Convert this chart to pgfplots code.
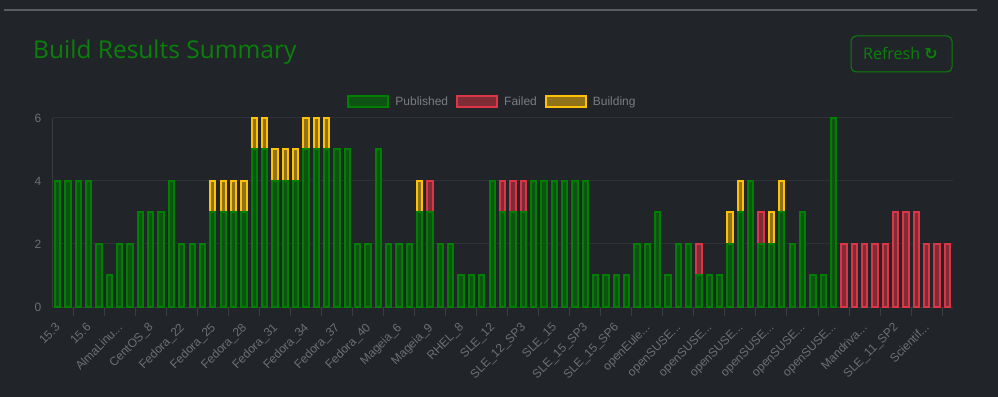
\documentclass[border=0pt]{standalone}
\usepackage{fontspec}
\setmainfont{Liberation Sans}
\newfontfamily\titlefont{Open Sans}
\newfontfamily\symfont{DejaVu Sans}
\usepackage{pgfplots}
\pgfplotsset{compat=1.18}
\definecolor{bg}{HTML}{212529}
\definecolor{topline}{HTML}{5A5D61}
\definecolor{titlegreen}{HTML}{0A800A}
\definecolor{pubfill}{HTML}{105214}
\definecolor{pubdraw}{HTML}{008000}
\definecolor{failfill}{HTML}{7E2D37}
\definecolor{faildraw}{HTML}{DC3545}
\definecolor{buildfill}{HTML}{907318}
\definecolor{builddraw}{HTML}{FFC107}
\definecolor{gridc}{HTML}{2E3236}
\definecolor{axisc}{HTML}{3A3E42}
\definecolor{tickc}{HTML}{6C6F73}
\definecolor{legc}{HTML}{7A7D80}
\newcommand{\dd}{.{}.{}.}
\begin{document}
\begin{tikzpicture}
\fill[bg] (0,0) rectangle (998bp,397bp);
\path[use as bounding box] (0,0) rectangle (998bp,397bp);
\draw[topline, line width=1.2bp] (4bp,387bp) -- (977bp,387bp);
\node[anchor=base west, text=titlegreen, inner sep=0pt,
  font=\titlefont\fontsize{24.5bp}{28bp}\selectfont] at (33bp,338.7bp) {Build Results Summary};
\draw[titlegreen, line width=1bp, rounded corners=5bp] (851bp,325bp) rectangle (952bp,361bp);
\node[anchor=base west, text=titlegreen, inner sep=0pt,
  font=\titlefont\fontsize{16bp}{20bp}\selectfont] at (863bp,337.7bp) {Refresh {\symfont\bfseries ↻}};
\begin{axis}[
  at={(52.5bp,90bp)}, anchor=south west,
  scale only axis, width=900bp, height=189bp,
  xmin=0.5, xmax=87.5, ymin=0, ymax=6,
  ybar, bar width=5.3bp, bar shift=0pt,
  clip=false,
  axis x line*=bottom, axis y line*=left,
  axis line style={-, color=axisc, line width=1bp},
  ytick={0,2,4,6},
  ymajorgrids, grid style={color=gridc, line width=1bp},
  xtick={1,4,...,85},
  xticklabels={15.3,15.6,AlmaLinu\dd,CentOS\_8,Fedora\_22,Fedora\_25,Fedora\_28,Fedora\_31,Fedora\_34,Fedora\_37,Fedora\_40,Mageia\_6,Mageia\_9,RHEL\_8,SLE\_12,SLE\_12\_SP3,SLE\_15,SLE\_15\_SP3,SLE\_15\_SP6,openEule\dd,openSUSE\dd,openSUSE\dd,openSUSE\dd,openSUSE\dd,openSUSE\dd,openSUSE\dd,Mandriva\dd,SLE\_11\_SP2,Scientif\dd},
  major tick length=0pt,
  extra x ticks={2.5,5.5,...,86.5},
  extra x tick labels={},
  extra x tick style={major tick length=9bp, tick align=outside, tick style={color=axisc, line width=1bp}},
  /pgf/number format/assume math mode=true,
  tick label style={font=\fontsize{12bp}{14bp}\selectfont, text=tickc},
  xticklabel style={xshift=-3bp, yshift=-15bp, rotate=45, anchor=north east, inner sep=0pt},
  yticklabel style={inner sep=0pt, xshift=-11bp},
  legend style={at={(0.4878,1.0847)}, anchor=center, draw=none, fill=none,
    legend columns=3, text=legc, font=\fontsize{12bp}{14bp}\selectfont,
    nodes={inner xsep=0pt},
    /tikz/every odd column/.append style={column sep=6bp},
    /tikz/every even column/.append style={column sep=8bp}},
  legend image code/.code={\draw[#1, line width=2bp] (0bp,-4.5bp) rectangle (40bp,6.5bp);},
]
% Failed segments (top of each bar, bottom hidden under Published)
\addplot[forget plot, fill=failfill, draw=faildraw, line width=2bp] coordinates {
(37,4)(44,4)(45,4)(46,4)(63,2)(69,3)
(77,2)(78,2)(79,2)(80,2)(81,2)(82,3)(83,3)(84,3)(85,2)(86,2)(87,2)};
% Building segments
\addplot[forget plot, fill=buildfill, draw=builddraw, line width=2bp] coordinates {
(16,4)(17,4)(18,4)(19,4)(20,6)(21,6)(22,5)(23,5)(24,5)(25,6)(26,6)(27,6)
(36,4)(66,3)(67,4)(70,3)(71,4)};
% Published
\addplot[fill=pubfill, draw=pubdraw, line width=2bp] coordinates {
(1,4)(2,4)(3,4)(4,4)(5,2)(6,1)(7,2)(8,2)(9,3)(10,3)(11,3)(12,4)(13,2)(14,2)(15,2)
(16,3)(17,3)(18,3)(19,3)(20,5)(21,5)(22,4)(23,4)(24,4)(25,5)(26,5)(27,5)(28,5)(29,5)
(30,2)(31,2)(32,5)(33,2)(34,2)(35,2)(36,3)(37,3)(38,2)(39,2)(40,1)(41,1)(42,1)(43,4)
(44,3)(45,3)(46,3)(47,4)(48,4)(49,4)(50,4)(51,4)(52,4)(53,1)(54,1)(55,1)(56,1)(57,2)
(58,2)(59,3)(60,1)(61,2)(62,2)(63,1)(64,1)(65,1)(66,2)(67,3)(68,4)(69,2)(70,2)(71,3)
(72,2)(73,3)(74,1)(75,1)(76,6)};
\addlegendentry{Published}
\addlegendimage{fill=failfill, draw=faildraw}
\addlegendentry{Failed}
\addlegendimage{fill=buildfill, draw=builddraw}
\addlegendentry{Building}
\end{axis}
\end{tikzpicture}
\end{document}
